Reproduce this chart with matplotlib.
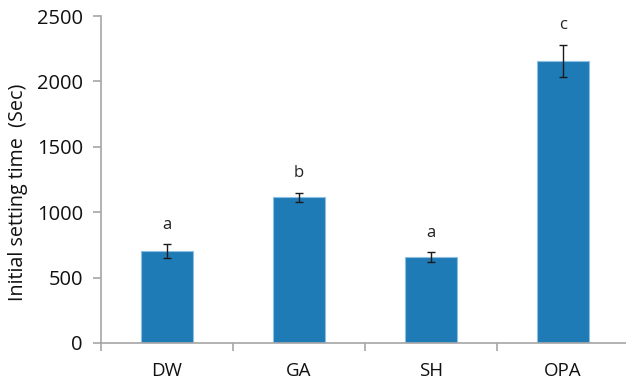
import matplotlib
matplotlib.use("Agg")
import matplotlib.pyplot as plt
import numpy as np

# Initial setting time per treatment, with standard deviations and significance groups
categories = ["DW", "GA", "SH", "OPA"]
means = [705, 1114, 655, 2155]
errors = [53, 35, 39, 125]
groups = ["a", "b", "a", "c"]
y_ticks = [0, 500, 1000, 1500, 2000, 2500]

plt.rcParams["font.family"] = ["Open Sans", "DejaVu Sans"]

fig = plt.figure(figsize=(6.26, 3.83), dpi=100)
ax = fig.add_axes([101 / 626, 40 / 383, 528 / 626, 327 / 383])

x = np.arange(len(categories))
bar_color = "#1f7bb6"
ax.bar(x, means, width=0.4, color=bar_color, edgecolor="#8fbfe0", linewidth=0.8, zorder=2)
ax.errorbar(x, means, yerr=errors, fmt="none", ecolor="#1a1a1a", elinewidth=1.0,
            capsize=3, capthick=1.0, zorder=3)

for xi, m, e, g in zip(x, means, errors, groups):
    ax.annotate(g, xy=(xi, m + e), xytext=(0, 11), textcoords="offset points",
                ha="center", va="baseline", fontsize=12, color="#222222")

ax.set_xlim(-0.5, len(categories) - 0.5)
ax.set_ylim(0, 2500)
ax.set_yticks(y_ticks)
ax.set_yticklabels([str(t) for t in y_ticks])
ax.set_xticks(x)
ax.set_xticklabels(categories)
ax.set_xticks(np.arange(len(categories) + 1) - 0.5, minor=True)

axis_gray = "#a6a6a6"
for side in ("top", "right"):
    ax.spines[side].set_visible(False)
for side in ("left", "bottom"):
    ax.spines[side].set_color(axis_gray)
    ax.spines[side].set_linewidth(1.2)

ax.tick_params(axis="y", direction="out", length=6, width=1.2, color=axis_gray,
               labelsize=14.5, pad=7, labelcolor="#111111")
ax.tick_params(axis="x", which="major", length=0, labelsize=13.5, pad=14,
               labelcolor="#111111")
ax.tick_params(axis="x", which="minor", direction="out", length=6, width=1.2,
               color=axis_gray)

ax.set_ylabel("Initial setting time  (Sec)", fontsize=14.2, color="#111111")
ax.yaxis.set_label_coords(-0.138, 0.46)

fig.savefig("out.png", dpi=100)
